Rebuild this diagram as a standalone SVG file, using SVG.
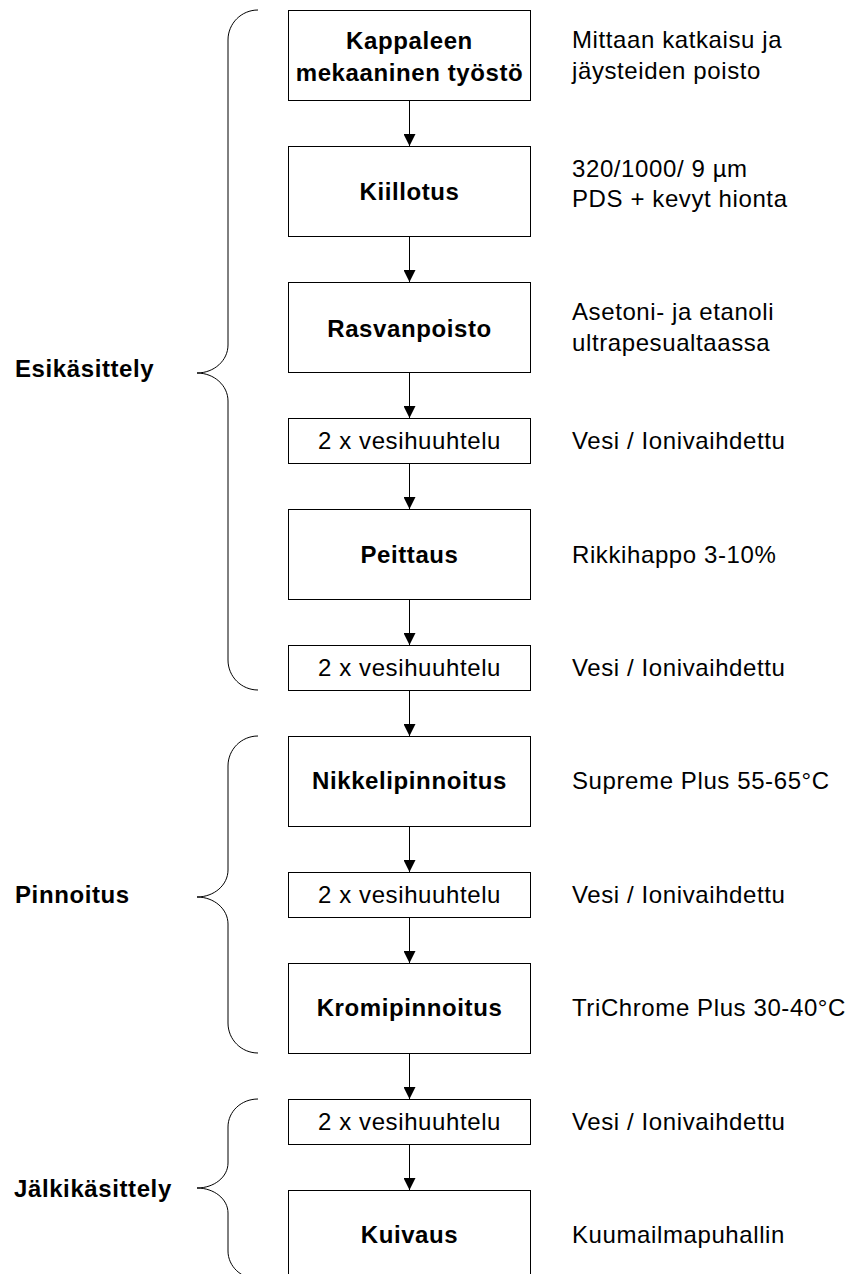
<svg xmlns="http://www.w3.org/2000/svg" width="854" height="1274" viewBox="0 0 854 1274">
<defs>
<style>
.box{fill:#fff;stroke:#000;stroke-width:1}
.t{font-family:"Liberation Sans",Arial,sans-serif;font-size:24px;letter-spacing:0.6px;fill:#000}
.b{font-weight:bold}
.c{text-anchor:middle}
.edge{stroke:#000;stroke-width:1;fill:none}
.brace{stroke:#000;stroke-width:1;fill:none}
</style>
<marker id="ah" viewBox="0 0 12 12" refX="12" refY="6" markerWidth="12" markerHeight="12" markerUnits="userSpaceOnUse" orient="auto">
<path d="M0,0 L12,6 L0,12 Z" fill="#000"/>
</marker>
</defs>
<rect width="854" height="1274" fill="#fff"/>

<g id="braces">
<path class="brace" d="M258,10 C241.4,10 228,23.4 228,40 L228,345 C228,360.5 214.1,373 197,373 C214.1,373 228,385.5 228,401 L228,660 C228,676.6 241.4,690 258,690"/>
<path class="brace" d="M258,736 C241.4,736 228,749.4 228,766 L228,870 C228,885 214.1,897 197,897 C214.1,897 228,909 228,924 L228,1023 C228,1039.6 241.4,1053 258,1053"/>
<path class="brace" d="M258,1099 C241.4,1099 228,1111.4 228,1127 L228,1163 C228,1177 214.1,1188 197,1188 C214.1,1188 228,1199 228,1213 L228,1251 C228,1266.4 241.4,1279 258,1279"/>
</g>

<g id="group-labels">
<text class="t b" x="15" y="377">Esikäsittely</text>
<text class="t b" x="15" y="903">Pinnoitus</text>
<text class="t b" x="14" y="1197">Jälkikäsittely</text>
</g>

<g id="connectors">
<line class="edge" x1="409.5" y1="100.5" x2="409.5" y2="146" marker-end="url(#ah)"/>
<line class="edge" x1="409.5" y1="236.5" x2="409.5" y2="282" marker-end="url(#ah)"/>
<line class="edge" x1="409.5" y1="372.5" x2="409.5" y2="418" marker-end="url(#ah)"/>
<line class="edge" x1="409.5" y1="463.5" x2="409.5" y2="509" marker-end="url(#ah)"/>
<line class="edge" x1="409.5" y1="599.5" x2="409.5" y2="645" marker-end="url(#ah)"/>
<line class="edge" x1="409.5" y1="690.5" x2="409.5" y2="736" marker-end="url(#ah)"/>
<line class="edge" x1="409.5" y1="826.5" x2="409.5" y2="872" marker-end="url(#ah)"/>
<line class="edge" x1="409.5" y1="917.5" x2="409.5" y2="963" marker-end="url(#ah)"/>
<line class="edge" x1="409.5" y1="1053.5" x2="409.5" y2="1099" marker-end="url(#ah)"/>
<line class="edge" x1="409.5" y1="1144.5" x2="409.5" y2="1190" marker-end="url(#ah)"/>
</g>

<g id="n1">
<rect class="box" x="288.5" y="10.5" width="242" height="90"/>
<text class="t b c" x="409.5" y="49">Kappaleen</text>
<text class="t b c" x="409.5" y="81">mekaaninen työstö</text>
<text class="t" x="572" y="48">Mittaan katkaisu ja</text>
<text class="t" x="572" y="79">jäysteiden poisto</text>
</g>
<g id="n2">
<rect class="box" x="288.5" y="146.5" width="242" height="90"/>
<text class="t b c" x="409.5" y="200">Kiillotus</text>
<text class="t" x="572" y="177">320/1000/ 9 µm</text>
<text class="t" x="572" y="207">PDS + kevyt hionta</text>
</g>
<g id="n3">
<rect class="box" x="288.5" y="282.5" width="242" height="90"/>
<text class="t b c" x="409.5" y="337">Rasvanpoisto</text>
<text class="t" x="572" y="320">Asetoni- ja etanoli</text>
<text class="t" x="572" y="351">ultrapesualtaassa</text>
</g>
<g id="n4">
<rect class="box" x="288.5" y="418.5" width="242" height="45"/>
<text class="t c" x="409.5" y="449">2 x vesihuuhtelu</text>
<text class="t" x="572" y="449">Vesi / Ionivaihdettu</text>
</g>
<g id="n5">
<rect class="box" x="288.5" y="509.5" width="242" height="90"/>
<text class="t b c" x="409.5" y="563">Peittaus</text>
<text class="t" x="572" y="563">Rikkihappo 3-10%</text>
</g>
<g id="n6">
<rect class="box" x="288.5" y="645.5" width="242" height="45"/>
<text class="t c" x="409.5" y="676">2 x vesihuuhtelu</text>
<text class="t" x="572" y="676">Vesi / Ionivaihdettu</text>
</g>
<g id="n7">
<rect class="box" x="288.5" y="736.5" width="242" height="90"/>
<text class="t b c" x="409.5" y="789">Nikkelipinnoitus</text>
<text class="t" x="572" y="789">Supreme Plus 55-65°C</text>
</g>
<g id="n8">
<rect class="box" x="288.5" y="872.5" width="242" height="45"/>
<text class="t c" x="409.5" y="903">2 x vesihuuhtelu</text>
<text class="t" x="572" y="903">Vesi / Ionivaihdettu</text>
</g>
<g id="n9">
<rect class="box" x="288.5" y="963.5" width="242" height="90"/>
<text class="t b c" x="409.5" y="1016">Kromipinnoitus</text>
<text class="t" x="572" y="1016">TriChrome Plus 30-40°C</text>
</g>
<g id="n10">
<rect class="box" x="288.5" y="1099.5" width="242" height="45"/>
<text class="t c" x="409.5" y="1130">2 x vesihuuhtelu</text>
<text class="t" x="572" y="1130">Vesi / Ionivaihdettu</text>
</g>
<g id="n11">
<rect class="box" x="288.5" y="1190.5" width="242" height="90"/>
<text class="t b c" x="409.5" y="1243">Kuivaus</text>
<text class="t" x="572" y="1243">Kuumailmapuhallin</text>
</g>
</svg>
